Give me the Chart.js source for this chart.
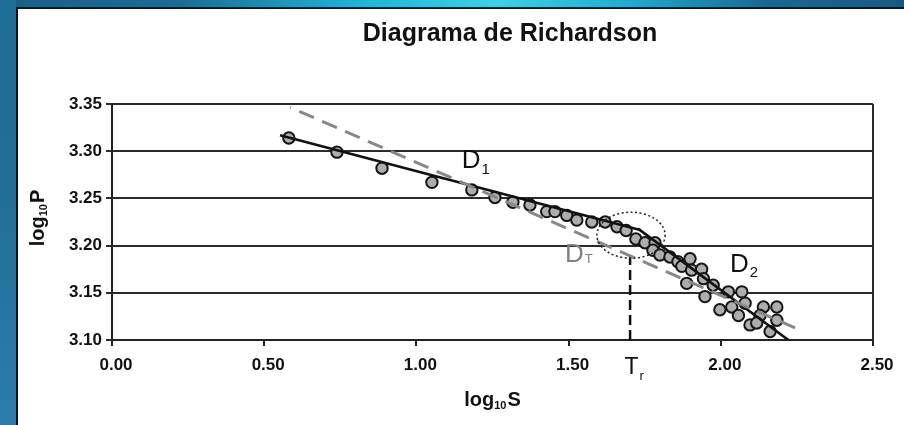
<!DOCTYPE html>
<html>
<head>
<meta charset="utf-8">
<script src="https://cdn.jsdelivr.net/npm/chart.js@4.4.1/dist/chart.umd.min.js"></script>
<style>
  html, body { margin: 0; padding: 0; background: #fff; }
  #wrap { position: relative; width: 904px; height: 425px; overflow: hidden; background: #fff; }
  #topband { position: absolute; left: 0; top: 0; width: 904px; height: 7px;
    background: linear-gradient(90deg, #1b5e86 0%, #1d6c93 20%, #22b4d6 40%, #3fd0e6 55%, #22a9cc 70%, #1b6690 85%, #1a5a82 100%); }
  #leftband { position: absolute; left: 0; top: 0; width: 16px; height: 425px;
    background: linear-gradient(180deg, #1e6b95 0%, #236f9a 50%, #2c7cab 100%); }
  #topline { position: absolute; left: 16px; top: 7px; width: 888px; height: 2px; background: #111; }
  #leftline { position: absolute; left: 16px; top: 7px; width: 2px; height: 418px; background: #111; }
  canvas { position: absolute; left: 0; top: 0; }
</style>
</head>
<body>
<div id="wrap">
  <div id="topband"></div>
  <div id="leftband"></div>
  <div id="topline"></div>
  <div id="leftline"></div>
  <canvas id="chart" width="904" height="425"></canvas>
</div>
<script>
// measured points (log10 S, log10 P)
const logS = [0.581, 0.739, 0.887, 1.051, 1.182, 1.258, 1.317, 1.373, 1.428, 1.455,
  1.494, 1.527, 1.576, 1.620, 1.659, 1.689, 1.721, 1.751, 1.784, 1.777,
  1.800, 1.833, 1.859, 1.872, 1.899, 1.904, 1.937, 1.943, 1.888, 1.975,
  1.948, 2.025, 2.069, 1.997, 2.036, 2.080, 2.058, 2.096, 2.140, 2.184,
  2.129, 2.184, 2.162, 2.118];
const logP = [3.314, 3.299, 3.282, 3.267, 3.259, 3.251, 3.246, 3.243, 3.236, 3.236,
  3.232, 3.227, 3.225, 3.225, 3.220, 3.216, 3.207, 3.203, 3.203, 3.195,
  3.190, 3.188, 3.183, 3.178, 3.186, 3.174, 3.175, 3.165, 3.160, 3.158,
  3.146, 3.151, 3.151, 3.132, 3.135, 3.139, 3.126, 3.116, 3.135, 3.135,
  3.126, 3.121, 3.109, 3.118];

// fitted lines
const d1S = [0.552, 1.735];
const d1P = [3.317, 3.2166];
const d2S = [1.728, 2.222];
const d2P = [3.218, 3.100];
const dtS = [0.585, 2.260];
const dtP = [3.3465, 3.1106];

// transition point Tr
const trS = [1.702, 1.702];
const trP = [3.100, 3.195];

const xTicks = [0, 0.5, 1.0, 1.5, 2.0, 2.5];
const yTicks = [3.10, 3.15, 3.20, 3.25, 3.30, 3.35];

const FONT = "'Liberation Sans', Arial, sans-serif";

const pts = (xs, ys) => xs.map((x, i) => ({ x, y: ys[i] }));

// text with a subscript after it
function drawSub(ctx, x, y, main, sub, size, subSize, drop, color, weight, center) {
  ctx.save();
  ctx.fillStyle = color;
  ctx.textBaseline = 'alphabetic';
  ctx.textAlign = 'left';
  ctx.font = `${weight} ${size}px ${FONT}`;
  const w1 = ctx.measureText(main).width;
  ctx.font = `${weight} ${subSize}px ${FONT}`;
  const w2 = ctx.measureText(sub).width;
  const x0 = center ? x - (w1 + w2 + 1) / 2 : x;
  ctx.font = `${weight} ${size}px ${FONT}`;
  ctx.fillText(main, x0, y);
  ctx.font = `${weight} ${subSize}px ${FONT}`;
  ctx.fillText(sub, x0 + w1 + 1, y + drop);
  ctx.restore();
}

// log10X axis title, centred on cx
function axisTitle(ctx, cx, y, letter) {
  ctx.save();
  ctx.fillStyle = '#111';
  ctx.textBaseline = 'alphabetic';
  ctx.textAlign = 'left';
  ctx.font = `bold 20px ${FONT}`;
  const wLog = ctx.measureText('log').width;
  const wL = ctx.measureText(letter).width;
  ctx.font = `bold 11px ${FONT}`;
  const w10 = ctx.measureText('10').width;
  const x = cx - (wLog + w10 + wL + 1) / 2;
  ctx.font = `bold 20px ${FONT}`;
  ctx.fillText('log', x, y);
  ctx.font = `bold 11px ${FONT}`;
  ctx.fillText('10', x + wLog, y + 3);
  ctx.font = `bold 20px ${FONT}`;
  ctx.fillText(letter, x + wLog + w10 + 1, y);
  ctx.restore();
}

new Chart(document.getElementById('chart'), {
  type: 'scatter',
  data: {
    datasets: [
      {
        type: 'line',
        label: 'DT',
        data: pts(dtS, dtP),
        borderColor: '#888888',
        borderWidth: 3,
        borderDash: [16, 9],
        borderDashOffset: 15,
        pointRadius: 0,
        fill: false,
        order: 0
      },
      {
        type: 'line',
        label: 'D1',
        data: pts(d1S, d1P),
        borderColor: '#111',
        borderWidth: 2.6,
        pointRadius: 0,
        fill: false,
        order: 0
      },
      {
        type: 'line',
        label: 'D2',
        data: pts(d2S, d2P),
        borderColor: '#111',
        borderWidth: 2.6,
        pointRadius: 0,
        fill: false,
        order: 0
      },
      {
        type: 'line',
        label: 'Tr',
        data: pts(trS, trP),
        borderColor: '#111',
        borderWidth: 2.5,
        borderDash: [10, 5],
        pointRadius: 0,
        fill: false,
        order: 0
      },
      {
        label: 'data',
        data: pts(logS, logP),
        backgroundColor: '#adadad',
        borderColor: '#151515',
        borderWidth: 2,
        pointRadius: 5.7,
        order: 1
      }
    ]
  },
  options: {
    responsive: false,
    animation: false,
    devicePixelRatio: 1,
    layout: { padding: { top: 104, right: 31, left: 0, bottom: 0 } },
    plugins: {
      legend: { display: false },
      tooltip: { enabled: false },
      title: { display: false }
    },
    scales: {
      x: {
        type: 'linear',
        min: 0,
        max: 2.5,
        afterBuildTicks: axis => { axis.ticks = xTicks.map(v => ({ value: v })); },
        afterFit: axis => { axis.height = 85; },
        ticks: {
          callback: v => Number(v).toFixed(2),
          font: { family: FONT, size: 17, weight: 'bold' },
          color: '#111',
          padding: 9,
          labelOffset: 4,
          maxRotation: 0
        },
        grid: { drawOnChartArea: false, tickLength: 6, color: '#222', lineWidth: 2 },
        border: { color: '#222', width: 2 }
      },
      y: {
        type: 'linear',
        min: 3.10,
        max: 3.35,
        afterBuildTicks: axis => { axis.ticks = yTicks.map(v => ({ value: v })); },
        afterFit: axis => { axis.width = 112; },
        ticks: {
          callback: v => Number(v).toFixed(2),
          font: { family: FONT, size: 17, weight: 'bold' },
          color: '#111',
          padding: 4
        },
        grid: { tickLength: 6, color: '#2b2b2b', lineWidth: 2 },
        border: { color: '#222', width: 2 }
      }
    }
  },
  plugins: [{
    id: 'labels',
    afterDraw(chart) {
      const { ctx, chartArea, scales } = chart;
      const xs = scales.x, ys = scales.y;

      // dotted ellipse around the break
      const cx = xs.getPixelForValue(1.705), cy = ys.getPixelForValue(3.211);
      const rx = xs.getPixelForValue(1.705 + 0.112) - cx;
      const ry = cy - ys.getPixelForValue(3.211 + 0.0244);
      ctx.save();
      ctx.strokeStyle = '#222';
      ctx.lineWidth = 1.5;
      ctx.setLineDash([2, 2.5]);
      ctx.beginPath();
      ctx.ellipse(cx, cy, rx, ry, 0, 0, Math.PI * 2);
      ctx.stroke();
      ctx.restore();

      // right border of plot
      ctx.save();
      ctx.strokeStyle = '#2b2b2b';
      ctx.lineWidth = 2;
      ctx.beginPath();
      ctx.moveTo(chartArea.right, chartArea.top);
      ctx.lineTo(chartArea.right, chartArea.bottom);
      ctx.stroke();
      ctx.restore();

      // title
      ctx.save();
      ctx.fillStyle = '#111';
      ctx.font = `bold 25px ${FONT}`;
      ctx.textAlign = 'center';
      ctx.textBaseline = 'alphabetic';
      ctx.fillText('Diagrama de Richardson', 510, 41);
      ctx.restore();

      // axis titles
      axisTitle(ctx, (chartArea.left + chartArea.right) / 2, 406, 'S');
      ctx.save();
      ctx.translate(44, (chartArea.top + chartArea.bottom) / 2 - 4);
      ctx.rotate(-Math.PI / 2);
      axisTitle(ctx, 0, 0, 'P');
      ctx.restore();

      // line labels
      drawSub(ctx, xs.getPixelForValue(1.149), ys.getPixelForValue(3.2827), 'D', '1', 26, 15, 6, '#111', 'normal', false);
      drawSub(ctx, xs.getPixelForValue(1.488), ys.getPixelForValue(3.1822), 'D', 'T', 26, 13, 1, '#808080', 'normal', false);
      drawSub(ctx, xs.getPixelForValue(2.030), ys.getPixelForValue(3.1721), 'D', '2', 26, 15, 5, '#111', 'normal', false);
      drawSub(ctx, xs.getPixelForValue(trS[0]) + 4, chartArea.bottom + 34, 'T', 'r', 23, 13, 6, '#111', 'normal', true);
    }
  }]
});
</script>
</body>
</html>
